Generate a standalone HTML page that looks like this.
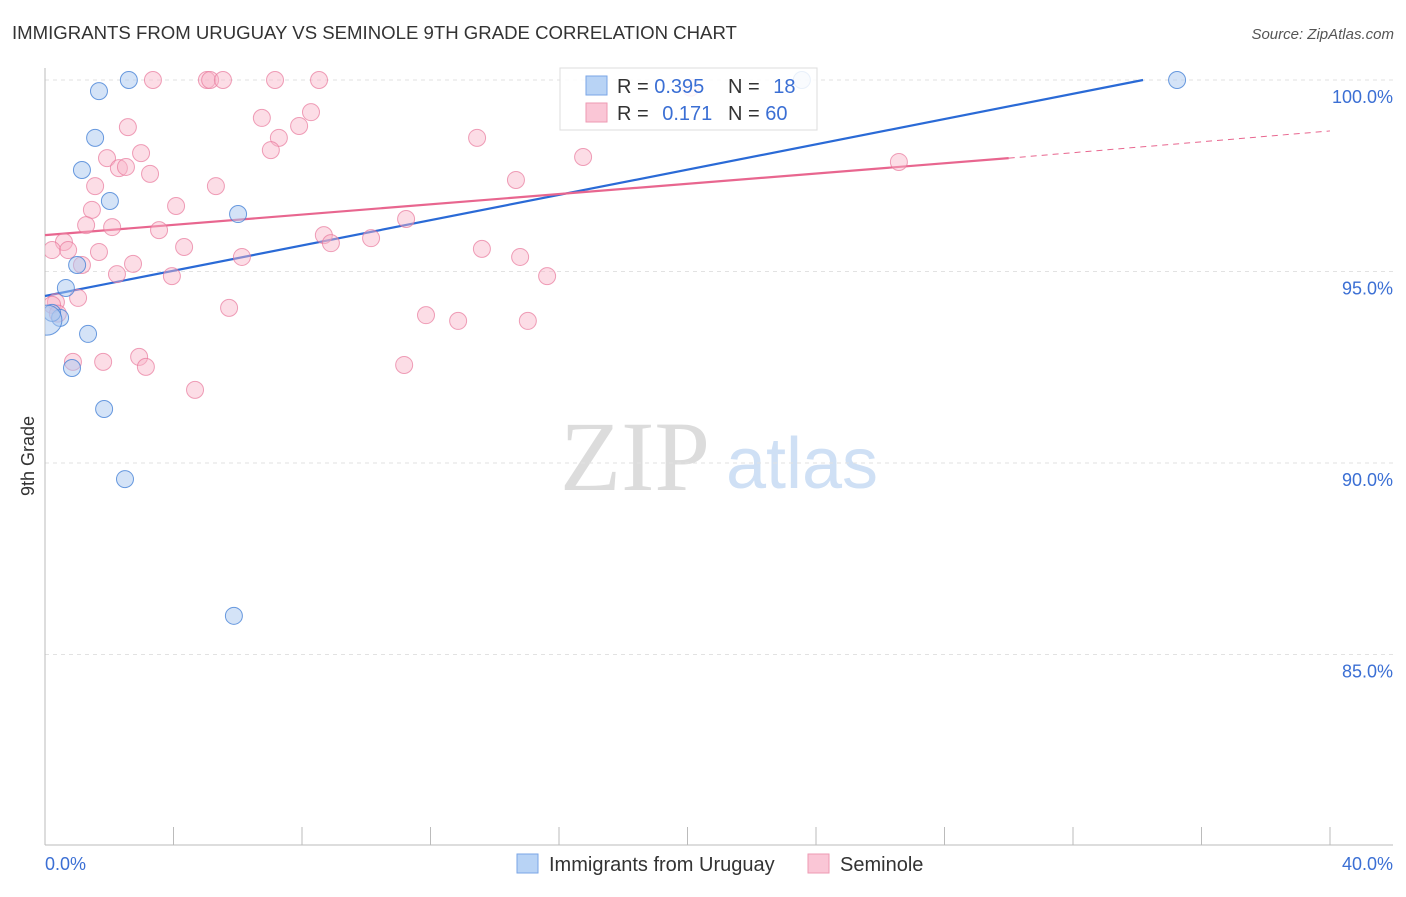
<!DOCTYPE html>
<html><head><meta charset="utf-8"><style>
body{margin:0;background:#fff;font-family:"Liberation Sans",sans-serif}
</style></head><body>
<svg id="chart" width="1406" height="892" xmlns="http://www.w3.org/2000/svg" font-family="Liberation Sans, sans-serif">
<text x="12" y="39" font-size="18.6" fill="#333">IMMIGRANTS FROM URUGUAY VS SEMINOLE 9TH GRADE CORRELATION CHART</text>
<text x="1394" y="39" font-size="15" fill="#555" font-style="italic" text-anchor="end">Source: ZipAtlas.com</text>
<text x="34" y="456" font-size="18" fill="#333" transform="rotate(-90 34 456)" text-anchor="middle">9th Grade</text>
<g><text x="635" y="490" font-size="100" fill="#dcdcdc" style="font-family:'Liberation Serif',serif" text-anchor="middle">ZIP</text><text x="802" y="488" font-size="72" fill="#cfe0f5" text-anchor="middle">atlas</text></g>
<defs><clipPath id="plot"><rect x="45" y="0" width="1360" height="845"/></clipPath></defs>
<g id="grid"></g><g id="axes"></g><g id="lines"></g><g id="pts" clip-path="url(#plot)"></g>
<g>
<rect x="560" y="68" width="257" height="62" fill="rgba(255,255,255,0.85)" stroke="#ddd"/>
<rect x="586" y="76" width="21" height="19" fill="#b8d3f5" stroke="#7aa6e6"/>
<rect x="586" y="103" width="21" height="19" fill="#fac6d6" stroke="#ee9ab3"/>
<text x="617" y="93" font-size="20" fill="#333">R = <tspan fill="#3b6fd4">0.395</tspan></text>
<text x="728" y="93" font-size="20" fill="#333">N = <tspan fill="#3b6fd4" dx="8">18</tspan></text>
<text x="617" y="120" font-size="20" fill="#333">R = <tspan fill="#3b6fd4" dx="8">0.171</tspan></text>
<text x="728" y="120" font-size="20" fill="#333">N = <tspan fill="#3b6fd4">60</tspan></text>
</g>
<g>
<rect x="517" y="854" width="21" height="19" fill="#b8d3f5" stroke="#7aa6e6"/>
<text x="549" y="871" font-size="20" fill="#333">Immigrants from Uruguay</text>
<rect x="808" y="854" width="21" height="19" fill="#fac6d6" stroke="#ee9ab3"/>
<text x="840" y="871" font-size="20" fill="#333">Seminole</text>
</g>
</svg>
<script>
const blueX=[2.61,1.68,1.56,1.15,2.02,6.01,1.00,0.65,0.47,0.22,1.34,0.84,1.84,2.49,5.88,23.56,35.24,0.06];
const blueY=[100.0,99.71,98.49,97.65,96.84,96.50,95.17,94.57,93.79,93.92,93.37,92.48,91.41,89.58,86.01,100.0,100.0,93.73];
const pinkX=[3.36,5.04,5.14,5.54,7.16,8.53,20.1,6.75,8.28,2.58,7.91,7.28,7.03,13.45,1.93,2.99,16.75,2.30,2.52,3.27,1.56,5.32,14.66,26.58,1.46,4.08,1.28,2.09,11.24,3.55,8.68,8.90,10.15,0.59,0.22,0.72,1.68,4.33,13.60,6.13,14.79,1.15,2.74,2.24,3.95,15.63,0.34,1.03,5.73,11.86,12.86,15.03,0.87,1.81,2.93,3.14,11.18,4.67,0.22,0.4];
const pinkY=[100,100,100,100,100,100,99.8,99.01,99.16,98.77,98.80,98.49,98.17,98.49,97.96,98.09,97.99,97.70,97.73,97.55,97.23,97.23,97.39,97.86,96.61,96.71,96.21,96.16,96.37,96.08,95.95,95.74,95.87,95.77,95.56,95.56,95.51,95.64,95.59,95.38,95.38,95.17,95.20,94.93,94.88,94.88,94.20,94.31,94.05,93.86,93.71,93.71,92.64,92.64,92.77,92.51,92.56,91.91,94.13,93.9];
const yTicks=[100,95,90,85];
const yTickLabels=["100.0%","95.0%","90.0%","85.0%"];
const blueTrend=[[0,94.36],[34.18,100]];
const pinkTrend=[[0,95.95],[30,97.96],[40,98.67]];
const X=v=>45+v/40*1285, Y=v=>80+(100-v)*38.3;
const NS="http://www.w3.org/2000/svg";
function mk(tag,attrs,parent){const e=document.createElementNS(NS,tag);for(const k in attrs)e.setAttribute(k,attrs[k]);document.getElementById(parent).appendChild(e);return e;}
yTicks.forEach((t,i)=>{
 const g=mk('line',{x1:45,x2:1393,y1:Y(t),y2:Y(t),stroke:'#e2e2e2','stroke-dasharray':'4 4'},'grid');
 
 
 const l=mk('text',{x:1393,y:Y(t)+23,'font-size':18,fill:'#3b6fd4','text-anchor':'end'},'grid');
 l.textContent=yTickLabels[i];
 
 
});
let a=mk('line',{x1:45,x2:45,y1:68,y2:845,stroke:'#bbb'},'axes');


a=mk('line',{x1:45,x2:1393,y1:845,y2:845,stroke:'#bbb'},'axes');


for(let k=0;k<=10;k++){const t=mk('line',{x1:X(k*4),x2:X(k*4),y1:827,y2:845,stroke:'#bbb'},'axes');
 
 }
[["0.0%",45,'start'],["40.0%",1393,'end']].forEach(d=>{const t=mk('text',{x:d[1],y:870,'font-size':18,fill:'#3b6fd4','text-anchor':d[2]},'axes');t.textContent=d[0];
 
 });
let ln=mk('line',{x1:X(blueTrend[0][0]),y1:Y(blueTrend[0][1]),x2:X(blueTrend[1][0]),y2:Y(blueTrend[1][1]),stroke:'#2a6ad6','stroke-width':2.2},'lines');


ln=mk('line',{x1:X(pinkTrend[0][0]),y1:Y(pinkTrend[0][1]),x2:X(pinkTrend[1][0]),y2:Y(pinkTrend[1][1]),stroke:'#e8668f','stroke-width':2.2},'lines');


ln=mk('line',{x1:X(pinkTrend[1][0]),y1:Y(pinkTrend[1][1]),x2:X(pinkTrend[2][0]),y2:Y(pinkTrend[2][1]),stroke:'#e8668f','stroke-width':1,'stroke-dasharray':'6 5'},'lines');


pinkX.forEach((x,i)=>{const c=mk('circle',{cx:X(x),cy:Y(pinkY[i]),r:8.5,fill:'rgba(248,180,200,0.45)',stroke:'rgba(232,120,155,0.7)','stroke-width':1},'pts');
 
 });
blueX.forEach((x,i)=>{const c=mk('circle',{cx:X(x),cy:Y(blueY[i]),r:i==17?15:8.5,fill:'rgba(170,200,240,0.5)',stroke:'rgba(70,130,215,0.8)','stroke-width':1},'pts');
 
 });
</script>
</body></html>
